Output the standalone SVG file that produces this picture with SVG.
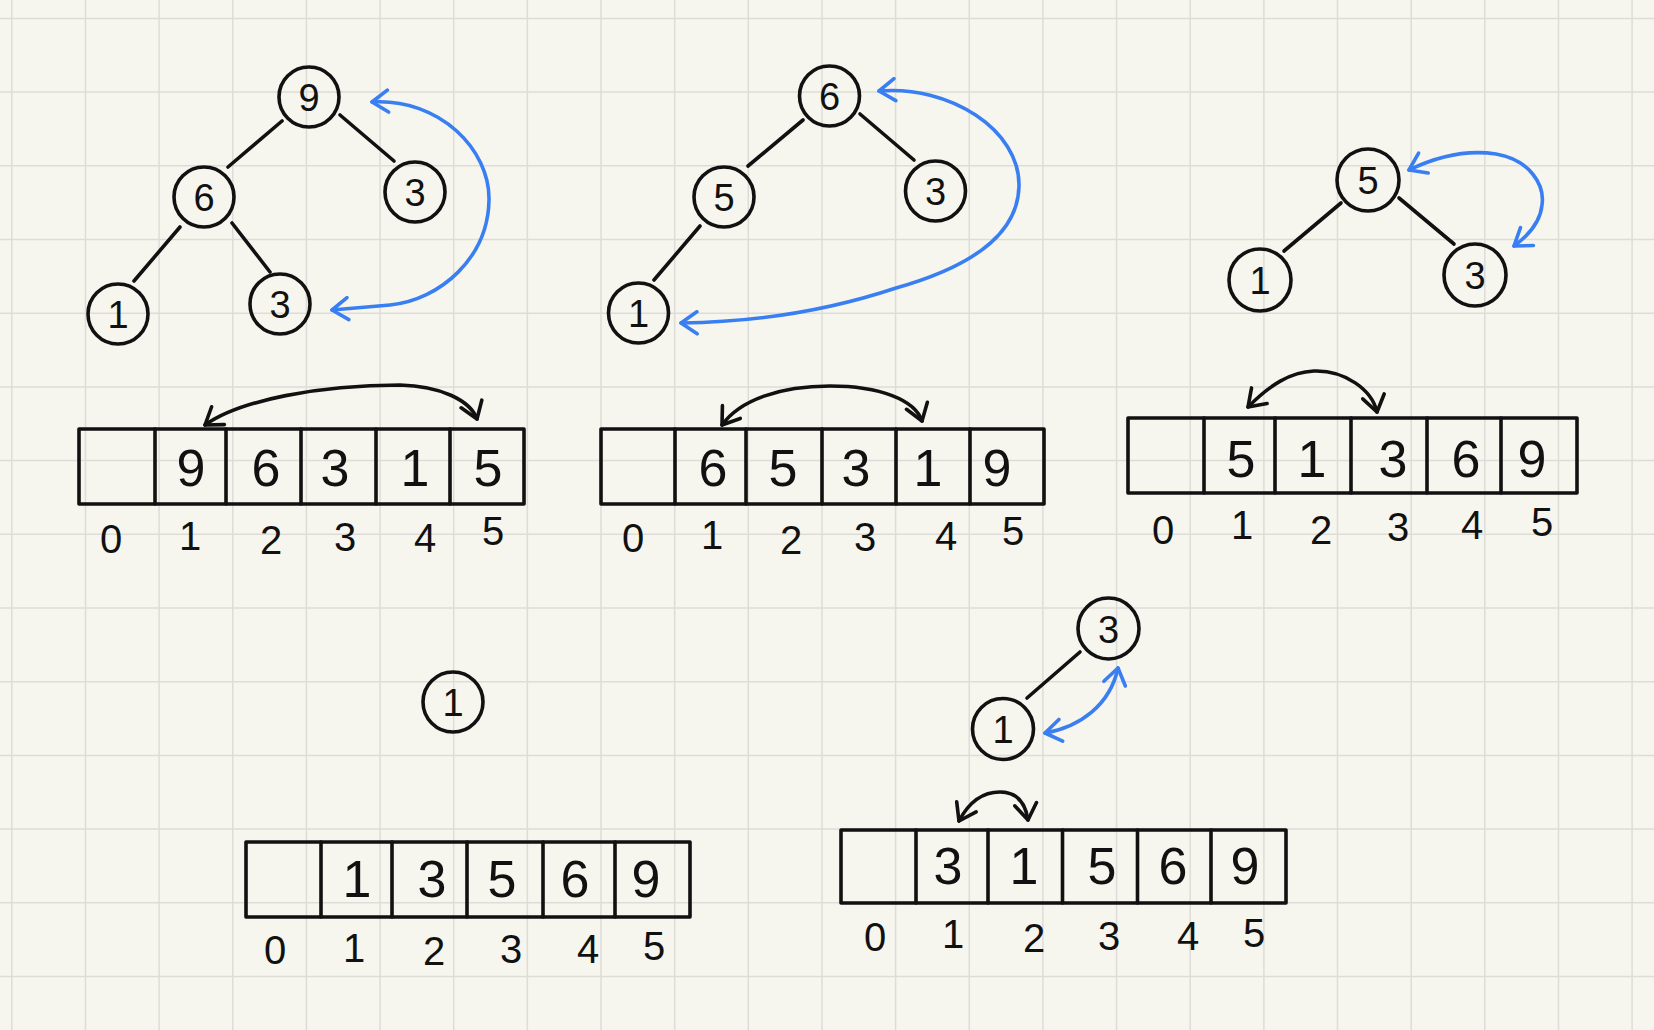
<svg xmlns="http://www.w3.org/2000/svg" width="1654" height="1030" viewBox="0 0 1654 1030">
<style>
.ln{stroke:#111;stroke-width:3.6;fill:none;stroke-linecap:round;stroke-linejoin:round}
.nd{stroke:#111;stroke-width:3.6;fill:none}
.bl{stroke:#3a7ff2;stroke-width:3.6;fill:none;stroke-linecap:round}
.bk{stroke:#111;stroke-width:3.6;fill:none;stroke-linecap:round}
.nt{font-family:"Liberation Sans",Arial,sans-serif;font-size:38px;fill:#111;text-anchor:middle}
.ct{font-family:"Liberation Sans",Arial,sans-serif;font-size:52px;fill:#111;text-anchor:middle}
.it{font-family:"Liberation Sans",Arial,sans-serif;font-size:40px;fill:#111;text-anchor:middle}
</style>
<defs>
<marker id="ab" viewBox="0 0 22 26" refX="19" refY="13" markerWidth="22" markerHeight="26" markerUnits="userSpaceOnUse" orient="auto-start-reverse">
<path d="M3,2 L19,13 L3,24" fill="none" stroke="#3a7ff2" stroke-width="3.6" stroke-linecap="round" stroke-linejoin="round"/>
</marker>
<marker id="ak" viewBox="0 0 22 26" refX="19" refY="13" markerWidth="22" markerHeight="26" markerUnits="userSpaceOnUse" orient="auto-start-reverse">
<path d="M3,2 L19,13 L3,24" fill="none" stroke="#111" stroke-width="3.6" stroke-linecap="round" stroke-linejoin="round"/>
</marker>
</defs>
<rect x="0" y="0" width="1654" height="1030" fill="#f6f6ee"/>
<g id="grid" stroke="#dddcd8" stroke-width="1.5">
<path d="M11.8,0V1030M85.45,0V1030M159.1,0V1030M232.75,0V1030M306.4,0V1030M380.05,0V1030M453.7,0V1030M527.35,0V1030M601,0V1030M674.65,0V1030M748.3,0V1030M821.95,0V1030M895.6,0V1030M969.25,0V1030M1042.9,0V1030M1116.55,0V1030M1190.2,0V1030M1263.85,0V1030M1337.5,0V1030M1411.15,0V1030M1484.8,0V1030M1558.45,0V1030M1632.1,0V1030"/>
<path d="M0,18.4H1654M0,92.1H1654M0,165.8H1654M0,239.5H1654M0,313.2H1654M0,386.9H1654M0,460.6H1654M0,534.3H1654M0,608H1654M0,681.7H1654M0,755.4H1654M0,829.1H1654M0,902.8H1654M0,976.5H1654"/>
</g>

<g id="connectors">
<g id="tree-edges" class="ln">
<line x1="282" y1="121" x2="228" y2="167"/>
<line x1="340" y1="115" x2="394" y2="161"/>
<line x1="180" y1="227" x2="134" y2="281"/>
<line x1="232" y1="223" x2="270" y2="272"/>
<line x1="803" y1="120" x2="748" y2="166"/>
<line x1="860" y1="114" x2="914" y2="160"/>
<line x1="700" y1="226" x2="654" y2="280"/>
<line x1="1341" y1="203" x2="1284" y2="251"/>
<line x1="1399" y1="198" x2="1454" y2="244"/>
<line x1="1080" y1="652" x2="1027" y2="698"/>
</g>
<g id="swap-blue">
<path class="bl" d="M372,102 C440,98 490,150 489,200 C488,258 440,300 390,305 L332,310" marker-start="url(#ab)" marker-end="url(#ab)"/>
<path class="bl" d="M879,91 C950,85 1020,130 1019,186 C1018,240 960,270 896,288 C830,310 760,322 681,323" marker-start="url(#ab)" marker-end="url(#ab)"/>
<path class="bl" d="M1409,170 C1440,155 1470,150 1496,154 C1530,160 1545,185 1542,205 C1540,225 1525,238 1514,246" marker-start="url(#ab)" marker-end="url(#ab)"/>
<path class="bl" d="M1045,733 C1080,727 1110,705 1118,668" marker-start="url(#ab)" marker-end="url(#ab)"/>
</g>
<g id="swap-black">
<path class="bk" d="M205,425 C240,400 320,385 400,385 C440,386 470,400 477,419" marker-start="url(#ak)" marker-end="url(#ak)"/>
<path class="bk" d="M722,425 C740,400 780,386 830,386 C880,386 915,400 922,421" marker-start="url(#ak)" marker-end="url(#ak)"/>
<path class="bk" d="M1248,407 C1270,385 1290,372 1314,371 C1345,370 1372,390 1377,412" marker-start="url(#ak)" marker-end="url(#ak)"/>
<path class="bk" d="M959,821 C970,800 985,792 1000,792 C1015,792 1025,800 1028,820" marker-start="url(#ak)" marker-end="url(#ak)"/>
</g>
</g>

<!-- Panel 1 tree -->
<g id="p1-n9"><circle class="nd" cx="309" cy="97" r="30"/><text class="nt" x="309" y="111">9</text></g>
<g id="p1-n6"><circle class="nd" cx="204" cy="197" r="30"/><text class="nt" x="204" y="211">6</text></g>
<g id="p1-n3a"><circle class="nd" cx="415" cy="192" r="30"/><text class="nt" x="415" y="206">3</text></g>
<g id="p1-n1"><circle class="nd" cx="118" cy="314" r="30"/><text class="nt" x="118" y="328">1</text></g>
<g id="p1-n3b"><circle class="nd" cx="280" cy="304" r="30"/><text class="nt" x="280" y="318">3</text></g>

<!-- Panel 2 tree -->
<g id="p2-n6"><circle class="nd" cx="829.5" cy="96" r="30"/><text class="nt" x="829.5" y="110">6</text></g>
<g id="p2-n5"><circle class="nd" cx="724" cy="197" r="30"/><text class="nt" x="724" y="211">5</text></g>
<g id="p2-n3"><circle class="nd" cx="935.5" cy="191" r="30"/><text class="nt" x="935.5" y="205">3</text></g>
<g id="p2-n1"><circle class="nd" cx="638.5" cy="313" r="30"/><text class="nt" x="638.5" y="327">1</text></g>

<!-- Panel 3 tree -->
<g id="p3-n5"><circle class="nd" cx="1368" cy="180" r="31"/><text class="nt" x="1368" y="194">5</text></g>
<g id="p3-n1"><circle class="nd" cx="1260" cy="280" r="31"/><text class="nt" x="1260" y="294">1</text></g>
<g id="p3-n3"><circle class="nd" cx="1475" cy="275" r="31"/><text class="nt" x="1475" y="289">3</text></g>

<!-- Panel 4 tree -->
<g id="p4-n1"><circle class="nd" cx="453" cy="702" r="30"/><text class="nt" x="453" y="716">1</text></g>

<!-- Panel 5 tree -->
<g id="p5-n3"><circle class="nd" cx="1108.5" cy="628.5" r="30.5"/><text class="nt" x="1108.5" y="642.5">3</text></g>
<g id="p5-n1"><circle class="nd" cx="1003" cy="729" r="30.5"/><text class="nt" x="1003" y="743">1</text></g>

<!-- Arrays -->
<g id="p1-array">
<rect class="ln" x="79" y="429" width="445" height="75"/>
<path class="ln" d="M155,429V504M226,429V504M301,429V504M376,429V504M450,429V504"/>
<text class="ct" x="191" y="486">9</text><text class="ct" x="266" y="486">6</text><text class="ct" x="335" y="486">3</text><text class="ct" x="415" y="486">1</text><text class="ct" x="488" y="486">5</text>
<text class="it" x="111" y="553">0</text><text class="it" x="190" y="550">1</text><text class="it" x="271" y="554">2</text><text class="it" x="345" y="551">3</text><text class="it" x="425" y="552">4</text><text class="it" x="493" y="545">5</text>
</g>
<g id="p2-array">
<rect class="ln" x="601" y="429" width="443" height="75"/>
<path class="ln" d="M675,429V504M746,429V504M822,429V504M896,429V504M970,429V504"/>
<text class="ct" x="713" y="486">6</text><text class="ct" x="783" y="486">5</text><text class="ct" x="856" y="486">3</text><text class="ct" x="928" y="486">1</text><text class="ct" x="997" y="486">9</text>
<text class="it" x="633" y="552">0</text><text class="it" x="712" y="549">1</text><text class="it" x="791" y="554">2</text><text class="it" x="865" y="551">3</text><text class="it" x="946" y="550">4</text><text class="it" x="1013" y="545">5</text>
</g>
<g id="p3-array">
<rect class="ln" x="1128" y="418" width="449" height="75"/>
<path class="ln" d="M1204,418V493M1275,418V493M1351,418V493M1427,418V493M1501,418V493"/>
<text class="ct" x="1241" y="477">5</text><text class="ct" x="1312" y="477">1</text><text class="ct" x="1393" y="477">3</text><text class="ct" x="1466" y="477">6</text><text class="ct" x="1532" y="477">9</text>
<text class="it" x="1163" y="544">0</text><text class="it" x="1242" y="539">1</text><text class="it" x="1321" y="544">2</text><text class="it" x="1398" y="541">3</text><text class="it" x="1472" y="539">4</text><text class="it" x="1542" y="536">5</text>
</g>
<g id="p4-array">
<rect class="ln" x="246" y="842" width="444" height="75"/>
<path class="ln" d="M321,842V917M392,842V917M467,842V917M543,842V917M615,842V917"/>
<text class="ct" x="357" y="897">1</text><text class="ct" x="432" y="897">3</text><text class="ct" x="502" y="897">5</text><text class="ct" x="575" y="897">6</text><text class="ct" x="646" y="897">9</text>
<text class="it" x="275" y="964">0</text><text class="it" x="354" y="962">1</text><text class="it" x="434" y="965">2</text><text class="it" x="511" y="963">3</text><text class="it" x="588" y="963">4</text><text class="it" x="654" y="960">5</text>
</g>
<g id="p5-array">
<rect class="ln" x="841" y="830" width="445" height="73"/>
<path class="ln" d="M916,830V903M988,830V903M1062.5,830V903M1137.5,830V903M1211,830V903"/>
<text class="ct" x="948" y="884">3</text><text class="ct" x="1024" y="884">1</text><text class="ct" x="1102" y="884">5</text><text class="ct" x="1173" y="884">6</text><text class="ct" x="1245" y="884">9</text>
<text class="it" x="875" y="951">0</text><text class="it" x="953" y="948">1</text><text class="it" x="1034" y="952">2</text><text class="it" x="1109" y="950">3</text><text class="it" x="1188" y="950">4</text><text class="it" x="1254" y="947">5</text>
</g>
</svg>
